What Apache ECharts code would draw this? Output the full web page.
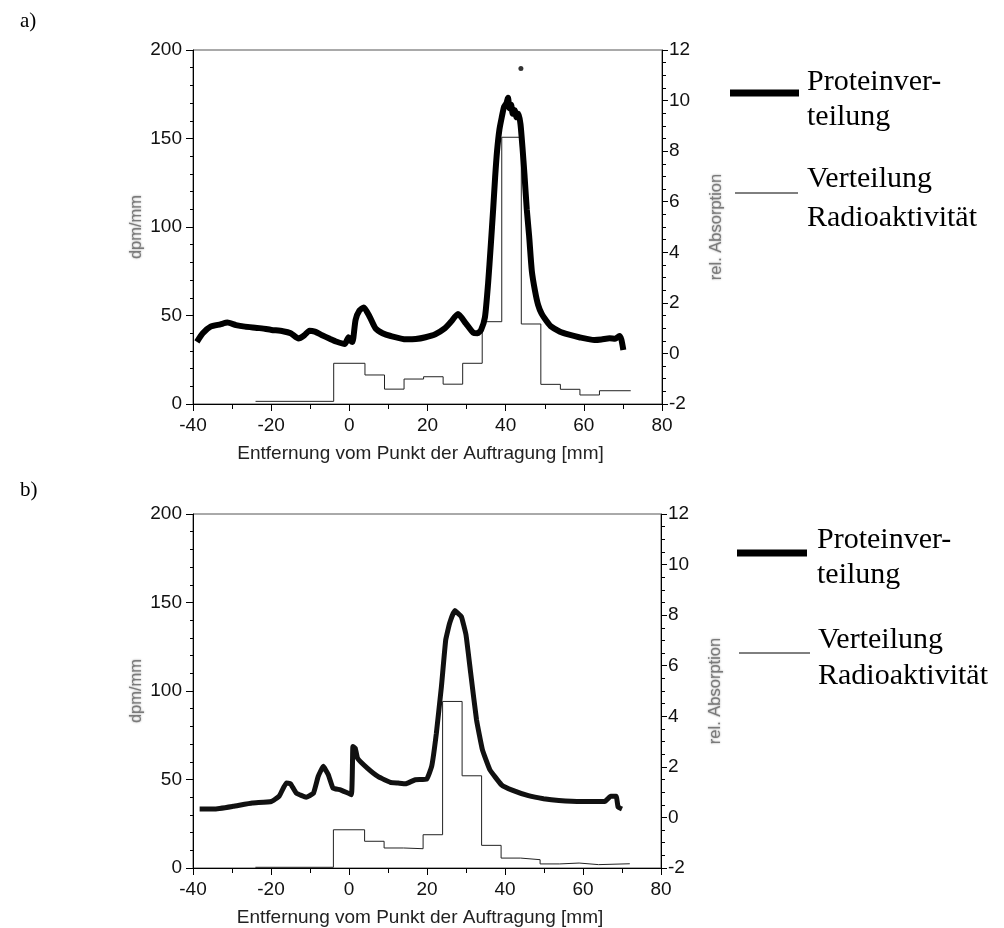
<!DOCTYPE html>
<html>
<head>
<meta charset="utf-8">
<script src="https://cdn.jsdelivr.net/npm/echarts@6/dist/echarts.min.js"></script>
<style>
  html, body { margin: 0; padding: 0; background: #fff; }
  #chart { width: 1004px; height: 928px; }
</style>
</head>
<body>
<div id="chart"></div>
<script>
// Shared x scale (Entfernung vom Punkt der Auftragung, mm)
const xTicks = { min: -40, max: 80, step: 20 };

// Radioactivity histogram: bin edges (mm) and dpm/mm per bin
const histEdges = [-24, -4, 4, 9, 14, 19, 24, 29, 34, 39, 44, 49, 54, 59, 64, 72];
const histA = [1.5, 23, 16.4, 8.4, 14.1, 15.4, 11.2, 23, 46.5, 150.7, 45.2, 11.1, 8.3, 5.1, 7.5];
const histB = [0.4, 21.6, 15.1, 11.3, 10.9, 18.8, 94.1, 52.1, 12.8, 5.6, 4.7, 2.3, 2.8, 1.9, 2.4];

// Protein profile, [mm, rel. Absorption]
const proteinA = [
  [-39, 0.46], [-37.5, 0.80], [-35.5, 1.06], [-33, 1.15], [-31.2, 1.22], [-29, 1.12],
  [-26.7, 1.06], [-23, 1.00], [-19.9, 0.93], [-17, 0.88], [-15, 0.80], [-13, 0.59],
  [-11.5, 0.72], [-10.2, 0.90], [-8.8, 0.86], [-7.1, 0.73], [-5, 0.58], [-3.2, 0.46],
  [-1.2, 0.37], [-0.2, 0.64], [0.4, 0.50], [0.8, 0.45], [1.6, 1.33], [2.6, 1.70],
  [3.7, 1.82], [5.2, 1.45], [6.7, 0.99], [8.5, 0.80], [10.6, 0.69], [14.5, 0.56],
  [17, 0.57], [19.5, 0.64], [22, 0.76], [24.4, 0.99], [26, 1.25], [27.8, 1.56],
  [29.8, 1.19], [31.7, 0.82], [32.8, 0.80], [33.7, 0.93], [34.7, 1.43], [35.5, 2.76],
  [36.2, 4.30], [36.8, 5.70], [37.3, 6.96], [37.8, 8.01], [38.4, 8.85], [39.0, 9.34],
  [39.6, 9.76], [40.2, 9.90], [40.6, 10.11], [41.0, 9.69], [41.4, 9.83], [41.8, 9.48],
  [42.3, 9.62], [42.8, 9.34], [43.3, 9.48], [43.8, 9.06], [44.3, 8.15], [44.8, 7.10],
  [45.4, 5.70], [46.0, 4.65], [46.7, 3.25], [47.5, 2.48], [48.3, 1.92], [49.2, 1.57],
  [50.4, 1.29], [51.5, 1.08], [53.9, 0.86], [56, 0.75], [58.8, 0.64], [62.7, 0.53],
  [64.5, 0.55], [66.6, 0.60], [68, 0.58], [69.1, 0.69], [69.6, 0.55], [70.1, 0.14]
];
const outlierA = [[43.9, 11.27]];

const proteinB = [
  [-38.3, 0.33], [-34.6, 0.33], [-29.7, 0.44], [-24.8, 0.57], [-19.9, 0.63], [-17.9, 0.84],
  [-16.1, 1.36], [-15, 1.33], [-13.5, 0.96], [-11, 0.80], [-9.1, 0.96], [-7.9, 1.62],
  [-6.6, 2.02], [-5.3, 1.69], [-4.1, 1.16], [-2.2, 1.09], [0.6, 0.90], [1.0, 2.81],
  [1.6, 2.74], [2.2, 2.34], [4.7, 1.95], [7.6, 1.60], [10.6, 1.39], [12.6, 1.36],
  [14.5, 1.33], [17.0, 1.49], [19.9, 1.51], [21.2, 2.02], [22.4, 3.33], [23.7, 5.18],
  [24.8, 7.02], [25.8, 7.68], [27.1, 8.18], [28.8, 7.94], [30.0, 7.22], [31.2, 5.71],
  [32.7, 3.86], [34.2, 2.68], [36.1, 1.89], [39.1, 1.29], [42.0, 1.07], [46.0, 0.86],
  [49.9, 0.74], [53.8, 0.67], [59.7, 0.63], [65.6, 0.63], [67.1, 0.84], [68.5, 0.84],
  [69.0, 0.41], [70.0, 0.33]
];

const xTitle = 'Entfernung vom Punkt der Auftragung [mm]';
const leftTitle = 'dpm/mm';
const rightTitle = 'rel. Absorption';
const legendProtein = ['Proteinver-', 'teilung'];
const legendRadio = ['Verteilung', 'Radioaktivität'];

// step line needs the closing edge of the last bin
function stepData(edges, vals) {
  const out = vals.map((v, i) => [edges[i], v]);
  out.push([edges[edges.length - 1], vals[vals.length - 1]]);
  return out;
}

const sans = 'Liberation Sans, Arial, sans-serif';
const serif = 'Liberation Serif, Times New Roman, serif';
const blurName = {
  color: '#7a7a7a', fontFamily: sans, fontSize: 16.5,
  textShadowColor: 'rgba(110,110,110,0.75)', textShadowBlur: 2
};

function axesFor(g) {
  const xMain = {
    gridIndex: g, type: 'value', min: xTicks.min, max: xTicks.max, interval: xTicks.step,
    axisLine: { onZero: false, lineStyle: { color: '#000', width: 1 } },
    axisTick: { length: 7, lineStyle: { color: '#000' } },
    axisLabel: { color: '#111', fontSize: 19, fontFamily: sans, margin: 12 },
    splitLine: { show: false },
    name: xTitle, nameLocation: 'middle', nameGap: 40,
    nameTextStyle: { color: '#222', fontSize: 19, fontFamily: sans, padding: [0, 14, 0, 0] }
  };
  const xMinor = {
    gridIndex: g, type: 'value', min: xTicks.min, max: xTicks.max, interval: xTicks.step,
    axisLine: { show: false },
    axisTick: { show: false, inside: true },
    minorTick: { show: true, splitNumber: 2, length: 5, lineStyle: { color: '#000' } },
    axisLabel: { show: false }, splitLine: { show: false }
  };
  const yLeft = {
    gridIndex: g, type: 'value', min: 0, max: 200, interval: 50,
    axisLine: { show: true, onZero: false, lineStyle: { color: '#000' } },
    axisTick: { length: 7, lineStyle: { color: '#000' } },
    minorTick: { show: true, splitNumber: 5, length: 3, lineStyle: { color: '#000' } },
    axisLabel: { color: '#111', fontSize: 19, fontFamily: sans, margin: 11 },
    splitLine: { show: false }, minorSplitLine: { show: false },
    name: leftTitle, nameLocation: 'middle', nameRotate: 90, nameGap: 48,
    nameTextStyle: blurName
  };
  const yRight = {
    gridIndex: g, type: 'value', position: 'right', min: -2, max: 12, interval: 2,
    axisLine: { show: true, onZero: false, lineStyle: { color: '#000' } },
    axisTick: { length: 6, lineStyle: { color: '#000' } },
    minorTick: { show: true, splitNumber: 4, length: 4, lineStyle: { color: '#000' } },
    axisLabel: { color: '#111', fontSize: 19, fontFamily: sans, margin: 7 },
    splitLine: { show: false }, minorSplitLine: { show: false },
    name: rightTitle, nameLocation: 'middle', nameRotate: 90, nameGap: 46,
    nameTextStyle: blurName
  };
  return { x: [xMain, xMinor], y: [yLeft, yRight] };
}

const a0 = axesFor(0), a1 = axesFor(1);

function legendText(x, y, s) {
  return { type: 'text', left: x, top: y, style: { text: s, font: '30px ' + serif, fill: '#000' } };
}
function legendLine(x1, x2, y, w) {
  return { type: 'line', shape: { x1: x1, y1: y, x2: x2, y2: y }, style: { stroke: '#000', lineWidth: w } };
}

const option = {
  backgroundColor: '#fff',
  animation: false,
  grid: [
    { left: 193, top: 50, width: 469, height: 354, show: true, borderColor: '#555', borderWidth: 1, backgroundColor: 'transparent' },
    { left: 193, top: 514, width: 468, height: 354, show: true, borderColor: '#555', borderWidth: 1, backgroundColor: 'transparent' }
  ],
  xAxis: [a0.x[0], a0.x[1], a1.x[0], a1.x[1]],
  yAxis: [a0.y[0], a0.y[1], a1.y[0], a1.y[1]],
  series: [
    { name: legendRadio.join(' '), type: 'line', step: 'end', xAxisIndex: 0, yAxisIndex: 0,
      data: stepData(histEdges, histA), symbol: 'none', lineStyle: { color: '#222', width: 1 } },
    { name: legendProtein.join(''), type: 'line', xAxisIndex: 0, yAxisIndex: 1, smooth: 0.2,
      data: proteinA, symbol: 'none', lineStyle: { color: '#000', width: 6 } },
    { type: 'scatter', xAxisIndex: 0, yAxisIndex: 1, data: outlierA, symbolSize: 5,
      itemStyle: { color: '#000' } },
    { name: legendRadio.join(' '), type: 'line', step: 'end', xAxisIndex: 2, yAxisIndex: 2,
      data: stepData(histEdges, histB), symbol: 'none', lineStyle: { color: '#222', width: 1 } },
    { name: legendProtein.join(''), type: 'line', xAxisIndex: 2, yAxisIndex: 3, smooth: 0.1,
      data: proteinB, symbol: 'none', lineStyle: { color: '#111', width: 5 } }
  ],
  graphic: [
    { type: 'text', left: 20, top: 11, style: { text: 'a)', font: '21px ' + serif, fill: '#000' } },
    { type: 'text', left: 20, top: 480, style: { text: 'b)', font: '21px ' + serif, fill: '#000' } },
    // panel a legend
    legendLine(730, 799, 93, 7),
    legendText(807, 67, legendProtein[0]),
    legendText(807, 102, legendProtein[1]),
    legendLine(735, 798, 193, 1),
    legendText(807, 164, legendRadio[0]),
    legendText(807, 203, legendRadio[1]),
    // panel b legend
    legendLine(737, 807, 553, 7),
    legendText(817, 525, legendProtein[0]),
    legendText(817, 560, legendProtein[1]),
    legendLine(739, 810, 653, 1),
    legendText(818, 625, legendRadio[0]),
    legendText(818, 661, legendRadio[1])
  ]
};

const chart = echarts.init(document.getElementById('chart'), null, { renderer: 'canvas' });
chart.setOption(option);
</script>
</body>
</html>
